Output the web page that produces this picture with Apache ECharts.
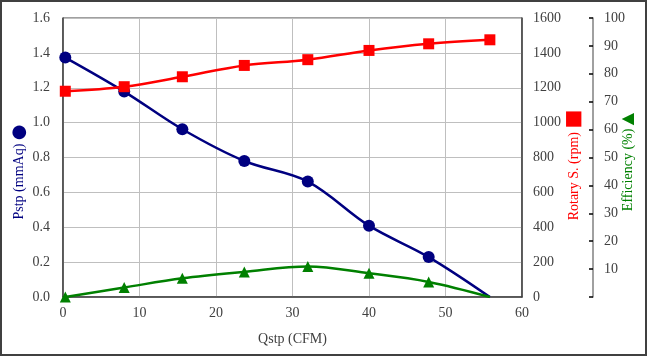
<!DOCTYPE html>
<html>
<head>
<meta charset="utf-8">
<script src="https://cdn.jsdelivr.net/npm/echarts@6/dist/echarts.min.js"></script>
<style>
html,body{margin:0;padding:0;background:#fff;}
#c{width:647px;height:356px;}
</style>
</head>
<body>
<div id="c"></div>
<script>
// Data
const qstp = [0.3, 8.0, 15.6, 23.7, 32.0, 40.0, 47.8, 55.8];
const pstp = [1.373, 1.178, 0.962, 0.780, 0.662, 0.409, 0.229, 0.0];
const rpm = [1180, 1206, 1263, 1328, 1361, 1414, 1452, 1475];
const eff = [0.0, 3.4, 6.7, 9.0, 10.9, 8.5, 5.4, 0.0];
const hiddenMarker = [false, false, false, false, false, false, false, true];
const xTicks = [0, 10, 20, 30, 40, 50, 60];

const FONT = '"Liberation Serif", "DejaVu Serif", serif';
const LBL = { color: '#404040', fontFamily: FONT, fontSize: 14 };

function pts(ys, hideFlags) {
  return qstp.map((x, i) => {
    const d = { value: [x, ys[i]] };
    if (hideFlags && hideFlags[i]) d.symbol = 'none';
    return d;
  });
}

const chart = echarts.init(document.getElementById('c'), null, { renderer: 'canvas' });
chart.setOption({
  animation: false,
  backgroundColor: '#fff',
  graphic: [{
    type: 'rect', shape: { x: 1, y: 1, width: 645, height: 354 },
    style: { fill: 'none', stroke: '#404040', lineWidth: 2 }, silent: true
  }],
  grid: { left: 63, right: 125, top: 18, bottom: 59, containLabel: false, outerBoundsMode: 'none',
    show: true, borderColor: '#404040', borderWidth: 1 },
  xAxis: {
    type: 'value', min: xTicks[0], max: xTicks[xTicks.length - 1], interval: 10,
    name: 'Qstp (CFM)', nameLocation: 'middle', nameGap: 35, nameMoveOverlap: false,
    nameTextStyle: { color: '#404040', fontFamily: FONT, fontSize: 14 },
    axisLine: { lineStyle: { color: '#404040', width: 1.5 } },
    axisTick: { show: false },
    axisLabel: Object.assign({ margin: 9, formatter: v => String(v) }, LBL),
    splitLine: { show: true, lineStyle: { color: '#bfbfbf', width: 1 } }
  },
  yAxis: [{
    type: 'value', min: 0, max: 1.6, interval: 0.2, position: 'left',
    name: 'Pstp (mmAq) {c|●}', nameLocation: 'middle', nameGap: 35, nameRotate: 90, nameMoveOverlap: false,
    nameTextStyle: { color: '#000080', fontFamily: FONT, fontSize: 14, padding: [0, 29, 0, 0],
      rich: { c: { color: '#000080', fontSize: 18, fontFamily: 'DejaVu Sans' } } },
    axisLine: { show: true, lineStyle: { color: '#404040', width: 1.5 } },
    axisTick: { show: false },
    axisLabel: Object.assign({ margin: 13, formatter: v => v.toFixed(1) }, LBL),
    splitLine: { show: true, lineStyle: { color: '#bfbfbf', width: 1 } }
  }, {
    type: 'value', min: 0, max: 1600, interval: 200, position: 'right',
    name: 'Rotary S. (rpm) {s|■}', nameLocation: 'middle', nameGap: 42, nameRotate: 90, nameMoveOverlap: false,
    nameTextStyle: { color: '#ff0000', fontFamily: FONT, fontSize: 14, padding: [0, 15, 0, 0],
      rich: { s: { color: '#ff0000', fontSize: 20, fontFamily: 'DejaVu Sans' } } },
    axisLine: { show: true, lineStyle: { color: '#404040', width: 1.5 } },
    axisTick: { show: false },
    axisLabel: Object.assign({ margin: 11, formatter: v => String(v) }, LBL),
    splitLine: { show: false }
  }, {
    type: 'value', min: 0, max: 100, interval: 10, position: 'right', offset: 71,
    name: 'Efficiency (%) {t|▲}', nameLocation: 'middle', nameGap: 27, nameRotate: 90, nameMoveOverlap: false,
    nameTextStyle: { color: '#008000', fontFamily: FONT, fontSize: 14, padding: [0, 9, 0, 0],
      rich: { t: { color: '#008000', fontSize: 16, fontFamily: 'DejaVu Sans' } } },
    axisLine: { show: true, lineStyle: { color: '#808080', width: 1.5 } },
    axisTick: { show: true, inside: true, length: 4, lineStyle: { color: '#000', width: 1.5 } },
    axisLabel: Object.assign({ margin: 11, formatter: v => v === 0 ? '' : String(v) }, LBL),
    splitLine: { show: false }
  }],
  series: [{
    name: 'Pstp', type: 'line', yAxisIndex: 0, smooth: 0.35,
    data: pts(pstp, hiddenMarker),
    symbol: 'circle', symbolSize: 12,
    lineStyle: { color: '#000080', width: 2.5 }, itemStyle: { color: '#000080' }
  }, {
    name: 'Rotary S.', type: 'line', yAxisIndex: 1, smooth: 0.35,
    data: pts(rpm, null),
    symbol: 'rect', symbolSize: 11,
    lineStyle: { color: '#ff0000', width: 2.5 }, itemStyle: { color: '#ff0000' }
  }, {
    name: 'Efficiency', type: 'line', yAxisIndex: 2, smooth: 0.35,
    data: pts(eff, hiddenMarker),
    symbol: 'triangle', symbolSize: 11,
    lineStyle: { color: '#008000', width: 2.5 }, itemStyle: { color: '#008000' }
  }]
});
</script>
</body>
</html>
